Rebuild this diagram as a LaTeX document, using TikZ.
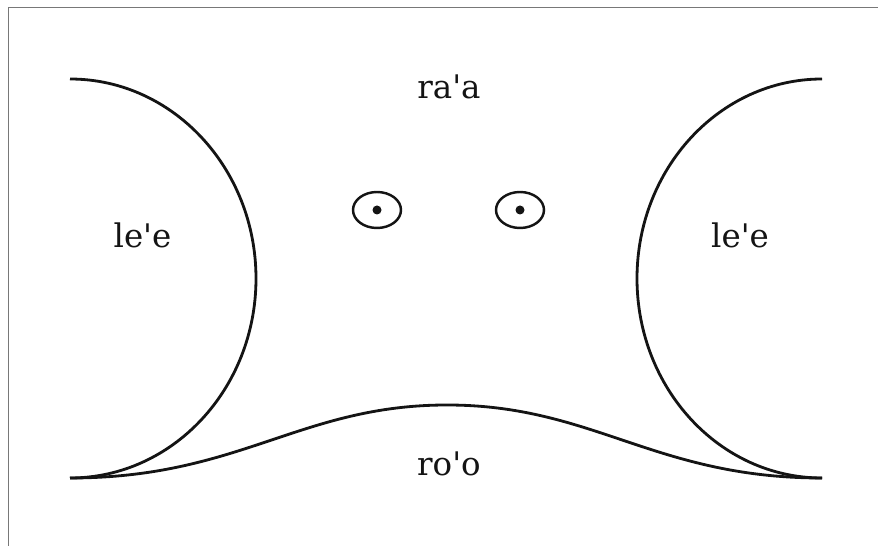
\documentclass[tikz,border=0pt]{standalone}
\usepackage{fontspec}
\newfontfamily\glossfont{DejaVu Serif}
\definecolor{framegray}{RGB}{120,120,120}
\definecolor{ink}{RGB}{20,20,20}

\begin{document}
\begin{tikzpicture}[x=0.02cm,y=-0.02cm,
    outline/.style={line width=1.6pt,ink},
    word/.style={font={\glossfont\fontsize{18.5}{22}\selectfont},anchor=base,inner sep=0pt,text=ink}]
  \useasboundingbox (0,0) rectangle (878,546);
  \draw[framegray,line width=0.7pt] (8.5,546) -- (8.5,7.5) -- (878,7.5);
  % cheeks
  \draw[outline] (70,79) arc[start angle=-90,end angle=90,x radius=186,y radius=199.5];
  \draw[outline] (822,79) arc[start angle=270,end angle=90,x radius=185,y radius=199.5];
  % chin line
  \draw[outline] (70,478) .. controls (240,478) and (300,405) .. (447,405)
     .. controls (594,405) and (654,478) .. (822,478);
  % eyes
  \foreach \ex in {377,520}{
    \draw[outline,line width=1.4pt] (\ex,210) ellipse[x radius=24,y radius=18];
    \fill[ink] (\ex,210) circle[radius=4.5];
  }
  \node[word] (top) at (449,99) {ra'a};
  \node[word] (leftcheek) at (142.5,248) {le'e};
  \node[word] (rightcheek) at (740,248) {le'e};
  \node[word] (chin) at (449,476) {ro'o};
\end{tikzpicture}
\end{document}
